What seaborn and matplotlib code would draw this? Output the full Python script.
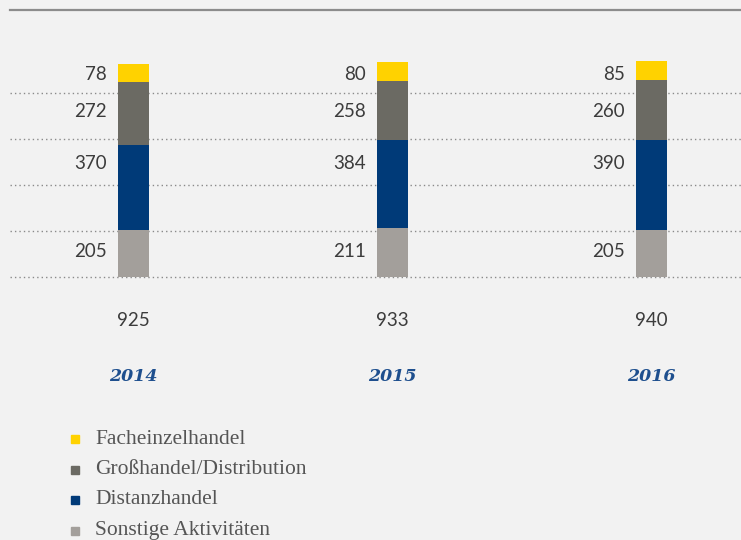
import numpy as np
import pandas as pd
import matplotlib
matplotlib.use('Agg')
import matplotlib.pyplot as plt
from matplotlib.patches import Rectangle
import seaborn as sns

# data
years = ['2014', '2015', '2016']
series = ['Facheinzelhandel', 'Großhandel/Distribution', 'Distanzhandel', 'Sonstige Aktivitäten']
sonstige = [205, 211, 205]
distanz = [370, 384, 390]
grosshandel = [272, 258, 260]
fachhandel = [78, 80, 85]
totals = [925, 933, 940]

colors = {'Facheinzelhandel': '#FFD200',
          'Großhandel/Distribution': '#6B6A63',
          'Distanzhandel': '#003A78',
          'Sonstige Aktivitäten': '#A39F9B'}

bg = '#F2F2F2'
text_col = '#3C3C3C'
year_col = '#1E4F8E'

# stacked frame (bottom to top)
stack_order = ['Sonstige Aktivitäten', 'Distanzhandel', 'Großhandel/Distribution', 'Facheinzelhandel']
df = pd.DataFrame({'year': years,
                   'Sonstige Aktivitäten': sonstige,
                   'Distanzhandel': distanz,
                   'Großhandel/Distribution': grosshandel,
                   'Facheinzelhandel': fachhandel})
cum = df[stack_order].cumsum(axis=1)

sns.set_style('white')
plt.rcParams['font.family'] = ['Lato', 'DejaVu Sans']

fig = plt.figure(figsize=(7.41, 5.40), dpi=100)
fig.patch.set_facecolor(bg)
W, H = 741, 540
ax = fig.add_axes([10 / W, (H - 277) / H, 731 / W, 267 / H])
ax.set_facecolor(bg)

# dotted grid lines
for g in [0, 200, 400, 600, 800]:
    ax.axhline(g, color='#8A8A8A', linestyle=(0, (1, 2.2)), linewidth=1.0,
               zorder=0, clip_on=False)

# stacked bars: draw cumulative totals from top down
for s in reversed(stack_order):
    sns.barplot(x=df['year'], y=cum[s], order=years, color=colors[s],
                width=0.12, saturation=1, linewidth=0, ax=ax, zorder=2)

ax.set_xlim(-0.477, 2.346)
ax.set_ylim(0, 1160)
for sp in ['left', 'right', 'bottom']:
    ax.spines[sp].set_visible(False)
ax.spines['top'].set_color('#8C8C8C')
ax.spines['top'].set_linewidth(1.6)
ax.set_xticks([])
ax.set_yticks([])
ax.set_xlabel('')
ax.set_ylabel('')

# value labels left of bars
label_rows = {'Facheinzelhandel': 880, 'Großhandel/Distribution': 718,
              'Distanzhandel': 492, 'Sonstige Aktivitäten': 110}
for i, yr in enumerate(years):
    for s in stack_order:
        ax.annotate(str(df.loc[i, s]), xy=(i - 0.06, label_rows[s]),
                    xytext=(-8, 0), textcoords='offset points',
                    ha='right', va='center', fontsize=13.5, color=text_col)
    ax.annotate(str(totals[i]), xy=(i, 0), xytext=(0, -31), textcoords='offset points',
                ha='center', va='center', fontsize=13.5, color=text_col, annotation_clip=False)
    ax.annotate(yr, xy=(i, 0), xytext=(0, -71.5), textcoords='offset points',
                ha='center', va='center', fontsize=12.5, color=year_col,
                fontstyle='italic', fontweight='bold', family='DejaVu Serif',
                annotation_clip=False)

# legend
for k, s in enumerate(series):
    yc = 439 + k * 30.5
    fig.add_artist(Rectangle((71 / W, (H - yc - 4) / H), 8 / W, 8 / H,
                             transform=fig.transFigure, color=colors[s]))
    fig.text(95 / W, (H - yc) / H, s, ha='left', va='center', fontsize=15.5,
             color='#555555', family='Liberation Serif')

fig.savefig('out.png', dpi=100, facecolor=bg)
